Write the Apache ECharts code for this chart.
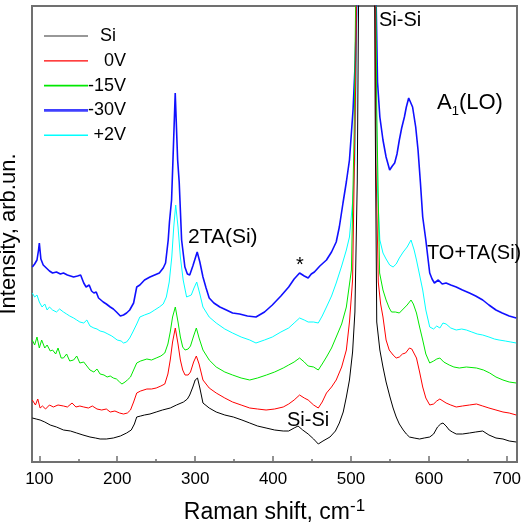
<!DOCTYPE html>
<html><head><meta charset="utf-8">
<script src="https://cdn.jsdelivr.net/npm/echarts/dist/echarts.min.js"></script>
<style>html,body{margin:0;padding:0;background:#fff}#c{width:521px;height:524px}</style>
</head><body><div id="c"></div><script>
// Raman shift (cm-1) / intensity (arb. units, offset-stacked as in the figure)
const seriesNames = ['Si', '0V', '-15V', '-30V', '+2V'];
const xTicks = [100, 200, 300, 400, 500, 600, 700];

const siShift = [91,96,101,107,114,122,131,140,148,156,165,172,178,186,195,204,212,218,222,225,230,235,242,250,258,268,276,285,290,293,297,300,303,306,310,318,327,338,349,360,370,380,391,402,413,420,427,432,438,445,452,458,464,473,480,485,490,494,498,502,505,508,511,515,520,525,529,531,533,537,541,545,550,554,558,562,567,571,575,581,588,594,601,606,611,615,618,622,626,630,635,643,652,660,669,677,686,695,703,712];
const siInt = [44,43,42,40,37,35,32,31,29,27,25,24,23,23,24,26,29,32,38,45,46,47,48,50,52,54,57,60,63,67,75,82,84,74,59,54,50,47,45,42,39,36,34,32,31,31,34,36,32,28,23,18,21,25,31,39,50,65,82,110,150,280,600,1500,3000,1500,700,350,140,112,95,80,65,54,45,38,32,28,25,24,23,24,25,28,35,38,39,36,32,30,28,28,29,30,31,27,24,23,21,20];

const v0Shift = [91,95,98,101,104,108,113,118,124,131,136,142,147,152,157,163,168,174,180,186,191,197,203,208,213,217,221,225,230,238,244,250,256,261,265,268,271,274.5,278,281,284,287,291,294,298,301.5,305,310,318,327,338,348,359,370,380,391,402,413,420,427,434,440,445,452,458,463,468.5,475,481,488,494,498,502,506,509,515,520,525,529,532,535,538,541,545,549,554,558,562,566,570,575,578,584,588,592,596,601,606,610,614,618,622,628,635,643,652,661,669,677,686,695,703,712];
const v0Int = [62,57,63,54,56,53,57,55,57,56,55,59,55,56,55,54,56,53,52,53,50,51,49,48,49,52,60,69,71,73,73,74,76,78,88,102,120,134,118,102,92,87,87,90,100,106,98,82,74,69,64,60,57,54,53,52,53,55,58,62,67,64,62,57,54,60,69,75,82,95,112,140,182,380,650,1500,3000,1500,800,300,180,158,145,122,112,107,104,105,108,109,114,113,104,90,75,64,57,58,61,63,61,59,57,55,56,57,58,56,54,52,50,49,47];

const v15Shift = [91,94,97,100,103,107,110,114,117,121,124,128,131,135,139,144,148,152,157,161,165,170,174,178,183,187,191,195,199,203,206,210,213,217,221,225,230,238,244,250,256,261,265,268,271,274.5,278,281,284,287,291,294,298,301.5,305,310,318,327,338,348,359,370,380,391.5,402,413,420,427,434,440,445,452,458,463,468.5,475,481,488,494,500.5,504,508,515,520,525,530,533,536.7,541,545,549,552,557,562,567,572,577,580,584,588,592,596,601,606,610,614,619,626,632,639,648,661,670,678,686,695,703,712];
const v15Int = [122,117,125,114,122,114,117,111,112,108,114,104,104,108,101,102,106,99,100,96,92,90,93,88,87,85,86,84,83,80,78,80,82,85,92,99,101,103,102,104,106,109,118,130,145,155,140,125,115,112,113,116,126,134,124,112,102,95,90,87,84,82,84,87,90,94,97,100,104,100,96,95,92,98,105,114,125,138,155,192,330,600,1500,3000,1500,700,350,189,172,162,154,150,150,149,153,157,162,158,149,135,122,108,99,101,103,104,100,97,95,94,95,94,92,89,85,82,80,79];

const v30Shift = [91,94,97,99,100,102,105,109,113,117,122,127,131,136,140,144,149,153,155,157,160,164,167,170,173,176,178,182,186,191,195,199,204,208,212,216,221,225,229,235,242,248,254,259,262,265.4,267,269.7,271.5,274.4,277.5,279.5,282.6,286.8,290,293,297,302.6,306,310,314,318,324,331.7,340,348,357,367,378,389,399,410,420,427,434,440,445,449,453,460,468.5,475,481,485,489.7,494,498,502.6,505.5,507,509,515,520,525,530,532,534,537,541,545,549.6,553,556,559,562,565,568.5,571,574,576,579,583,586,589,592,596,599,601,604,607,612,617,622,628,635,643,652,660,669,677,686,694,703,712];
const v30Int = [195,198,202,212,219,203,197,194,191,189,190,188,189,187,186,185,186,187,187,179,175,177,171,169,170,164,162,160,158,155,153,150,146,147,149,152,159,175,177,182,185,187,189,194,199,222,240,262,302,369,302,280,222,195,188,187,196,210,200,185,174,164,159,155,152,149,148,146,145,150,157,166,175,183,189,186,184,188,190,196,202,210,220,235,259,280,302,352,402,449,700,1800,3500,1800,900,470,380,345,322,305,292,296,299,308,322,334,345,355,364,362,355,335,312,280,245,222,202,189,183,179,182,178,179,177,175,172,169,166,162,157,152,149,146,144];

const v2Shift = [91,94,97,100,103.5,107,110,113,117,122,126,131,135,139,144,148,152,157,161,165,170,174,178,183,188,193,200,205,208,212,216,220,225,229,235,242,248,254,259,263,266.7,270,272.5,275,278,281,284.6,289,292,295,298.5,302,306,310,318,327,338,348,359,370,378,389,399,410,420,427,434,440,445,452,458,463,468.5,475,481,488,494,498,502,505,507,509,515,520,525,529,532,534,537,541,545,549.6,554,558,562,567,572,577,581,584,588,592,596,601,606,610,614,618,622,628,635,642,648,655,662,669,677,684,690,698,705,712];
const v2Int = [169,165,167,160,155,158,152,155,152,150,153,150,148,146,144,142,140,139,142,136,134,133,131,130,128,126,122,121,119,120,124,130,138,145,147,149,152,155,158,165,180,205,235,257,235,205,182,165,166,167,174,180,168,155,145,139,133,129,125,122,119,122,125,130,134,139,144,142,140,140,139,146,155,166,179,196,212,225,260,302,402,600,1500,3000,1500,800,400,270,222,209,203,197,195,198,204,210,215,222,212,202,187,172,152,135,133,136,134,139,138,134,132,133,132,130,128,127,125,123,122,121,120,119];

const shifts = [siShift, v0Shift, v15Shift, v30Shift, v2Shift];
const intens = [siInt, v0Int, v15Int, v30Int, v2Int];
const colors = ['#000000', '#ff0000', '#00e800', '#1010ff', '#00ffff'];
const widths = [1, 1, 1, 1.6, 1];
const legendLine = ['path://M0,0h44v1.2h-44z', 'path://M0,0h44v1.2h-44z', 'path://M0,0h44v1.6h-44z', 'path://M0,0h44v2.6h-44z', 'path://M0,0h44v1.4h-44z'];
const legendColors = ['#333333', '#ff0000', '#00e800', '#4040ff', '#00ffff'];

const FONT = 'Liberation Sans, Arial, sans-serif';
const chart = echarts.init(document.getElementById('c'), null, {renderer: 'canvas'});

const series = seriesNames.map((n, i) => ({
  name: n, type: 'line', showSymbol: false, symbol: 'none',
  data: shifts[i].map((x, k) => [x, intens[i][k]]),
  lineStyle: {color: colors[i], width: widths[i]},
  itemStyle: {color: colors[i]},
  clip: true, z: 2 + (4 - i), animation: false
}));

chart.setOption({
  animation: false,
  backgroundColor: '#ffffff',
  grid: {left: 32, top: 6, right: 4, bottom: 62, show: true, borderColor: '#707070', borderWidth: 2,
    containLabel: false, outerBoundsMode: 'none'},
  legend: {
    orient: 'vertical', left: 39, top: 22, itemWidth: 44, itemHeight: 14, itemGap: 6.8,
    data: seriesNames.map((n, i) => ({name: n, icon: legendLine[i], itemStyle: {color: legendColors[i], borderWidth: 0}})),
    textStyle: {fontFamily: FONT, fontSize: 18, color: '#000',
      rich: {a: {fontFamily: FONT, fontSize: 18, width: 33, align: 'right', color: '#000'},
             s: {fontFamily: FONT, fontSize: 18, width: 23, align: 'right', color: '#000'}}},
    formatter: n => n === 'Si' ? '{s|' + n + '}' : '{a|' + n + '}'
  },
  xAxis: {
    type: 'value', min: 90.6, max: 713, splitNumber: 6,
    name: 'Raman shift, cm{sup|-1}', nameLocation: 'middle', nameGap: 36,
    nameTextStyle: {fontFamily: FONT, fontSize: 23, color: '#000', lineHeight: 30,
      rich: {sup: {fontFamily: FONT, fontSize: 17, color: '#000', verticalAlign: 'top', lineHeight: 16}}},
    axisLine: {show: false},
    axisTick: {show: true, inside: true, length: 6, lineStyle: {color: '#707070', width: 1.5}},
    minorTick: {show: true, splitNumber: 2, length: 3, lineStyle: {color: '#707070', width: 1.5}},
    axisLabel: {fontFamily: FONT, fontSize: 17, color: '#000', margin: 9, showMinLabel: false, showMaxLabel: false,
      formatter: v => xTicks.includes(Math.round(v)) ? String(Math.round(v)) : ''},
    splitLine: {show: false}
  },
  yAxis: {
    type: 'value', min: 0, max: 456,
    name: 'Intensity, arb.un.', nameLocation: 'middle', nameGap: 12,
    nameTextStyle: {fontFamily: FONT, fontSize: 22, color: '#000'},
    axisLine: {show: false}, axisTick: {show: false}, axisLabel: {show: false}, splitLine: {show: false}
  },
  series: series,
  graphic: [
    {type: 'text', left: 188, top: 227, style: {text: '2TA(Si)', font: '21px ' + FONT, fill: '#000'}},
    {type: 'text', left: 296, top: 255, style: {text: '*', font: '20px ' + FONT, fill: '#000'}},
    {type: 'text', left: 427, top: 243, style: {text: 'TO+TA(Si)', font: '20px ' + FONT, fill: '#000'}},
    {type: 'text', left: 379, top: 10, style: {text: 'Si-Si', font: '20px ' + FONT, fill: '#000'}},
    {type: 'text', left: 287, top: 410, style: {text: 'Si-Si', font: '20px ' + FONT, fill: '#000'}},
    {type: 'text', left: 437, top: 92, style: {text: '{n|A}{s|1}{n|(LO)}', fill: '#000',
      rich: {n: {fontFamily: FONT, fontSize: 22, lineHeight: 26, verticalAlign: 'top'},
             s: {fontFamily: FONT, fontSize: 13, lineHeight: 26, verticalAlign: 'bottom'}}}}
  ]
});
</script></body></html>
